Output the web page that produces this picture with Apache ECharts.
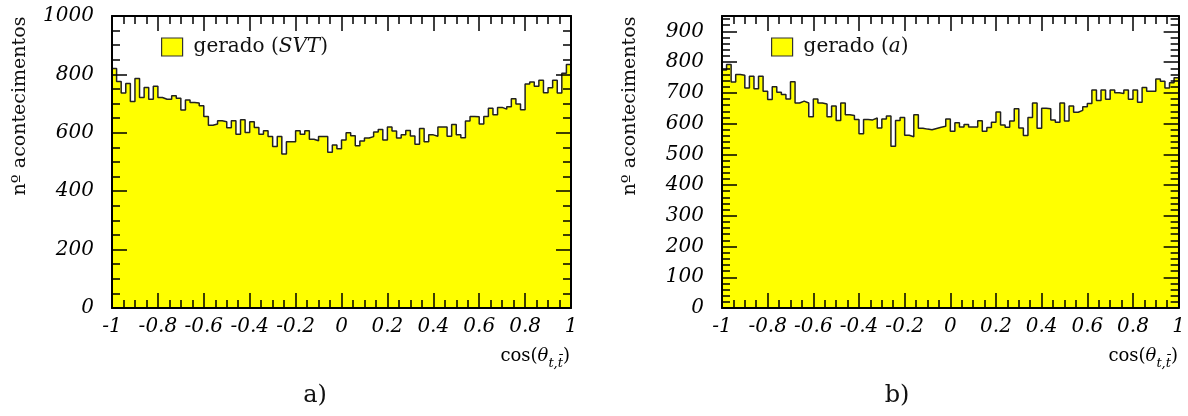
<!DOCTYPE html>
<html><head><meta charset="utf-8">
<script src="https://cdn.jsdelivr.net/npm/echarts@6/dist/echarts.min.js"></script>
<style>html,body{margin:0;padding:0;background:#fff}#c{width:1188px;height:416px}</style>
</head><body><div id="c"></div>
<script>
// ---- data ----
const binMin = -1, binMax = 1;
const countsSVT = [
820,776,736,769,707,786,721,755,715,759,
721,715,715,727,718,678,712,704,702,693,
656,626,630,641,638,617,641,595,645,601,
638,618,595,607,587,553,587,527,569,569,
607,595,607,578,573,587,587,533,558,545,
575,600,590,556,572,582,587,603,611,575,
620,606,582,593,608,589,561,615,569,593,
588,620,620,588,628,593,583,640,656,655,
630,656,684,662,687,681,689,717,699,679,
767,774,759,780,737,754,780,736,804,834];
const countsA = [
774,792,735,760,757,716,754,713,754,705,
678,720,702,695,680,736,667,673,667,622,
680,667,664,622,657,610,667,629,626,613,
567,613,612,618,586,615,625,526,610,620,
562,557,629,585,582,580,584,588,591,615,
575,603,589,597,589,589,609,575,587,604,
638,595,588,608,648,586,561,620,667,585,
650,648,612,604,667,608,657,637,643,655,
665,709,675,709,679,709,700,698,709,679,
709,669,717,705,705,745,738,716,733,749];
const xTickValues = [-1,-0.8,-0.6,-0.4,-0.2,0,0.2,0.4,0.6,0.8,1];
const xTickLabels = ['-1','-0.8','-0.6','-0.4','-0.2','0','0.2','0.4','0.6','0.8','1'];
const yLeftLabels = ['0','200','400','600','800','1000'];
const yRightLabels = ['0','100','200','300','400','500','600','700','800','900'];
const legendNames = ['gerado (SVT)', 'gerado (a)'];

// ---- build ----
function stepData(counts){
  const w = (binMax - binMin) / counts.length;
  const d = counts.map((v,i)=>[binMin + i*w, v]);
  d.push([binMax, counts[counts.length-1]]);
  return d;
}
const lblFont = {fontFamily:'DejaVu Serif', fontStyle:'italic', fontSize:20, color:'#000'};
const frame = {show:true, onZero:false, lineStyle:{color:'#000', width:2}};
const noLine = {show:false, onZero:false};
const majT = {inside:true, length:15, lineStyle:{color:'#000', width:1.5}};
const minT = {inside:true, length:8, lineStyle:{color:'#000', width:1.5}};
function xLabel(v){
  const i = xTickValues.findIndex(t=>Math.abs(t-v)<1e-6);
  return i>=0 ? xTickLabels[i] : '';
}
const grids = [
  {left:112, top:16, width:459, height:292},
  {left:722, top:16, width:459, height:292}
];
const xAxis = [], yAxis = [];
const yCfg = [
  {max:1000, major:200, minor:50, labels:yLeftLabels},
  {max:950, major:100, minor:20, labels:yRightLabels}
];
grids.forEach((g,gi)=>{
  const base = {gridIndex:gi, type:'value', min:-1, max:1, offset:0, z:10, splitLine:{show:false}};
  xAxis.push(Object.assign({}, base, {interval:0.2, position:'bottom', axisLine:frame, axisTick:majT,
    axisLabel:Object.assign({margin:9, formatter:xLabel}, lblFont)}));
  xAxis.push(Object.assign({}, base, {interval:0.05, position:'bottom', axisLine:noLine, axisTick:minT, axisLabel:{show:false}}));
  xAxis.push(Object.assign({}, base, {interval:0.2, position:'top', axisLine:frame, axisTick:majT, axisLabel:{show:false}}));
  xAxis.push(Object.assign({}, base, {interval:0.05, position:'top', axisLine:noLine, axisTick:minT, axisLabel:{show:false}}));
  const c = yCfg[gi];
  const yl = v => { const i = Math.round(v / c.major); return (Math.abs(v - i*c.major)<1e-6 && i < c.labels.length) ? c.labels[i] : ''; };
  const yb = {gridIndex:gi, type:'value', min:0, max:c.max, offset:0, z:10, splitLine:{show:false}};
  yAxis.push(Object.assign({}, yb, {interval:c.major, position:'left', axisLine:frame, axisTick:majT,
    axisLabel:Object.assign({margin:18, formatter:yl}, lblFont)}));
  yAxis.push(Object.assign({}, yb, {interval:c.minor, position:'left', axisLine:noLine, axisTick:minT, axisLabel:{show:false}}));
  yAxis.push(Object.assign({}, yb, {interval:c.major, position:'right', axisLine:frame, axisTick:majT, axisLabel:{show:false}}));
  yAxis.push(Object.assign({}, yb, {interval:c.minor, position:'right', axisLine:noLine, axisTick:minT, axisLabel:{show:false}}));
});
const seriesCounts = [countsSVT, countsA];
const series = seriesCounts.map((cnt,gi)=>({
  name: legendNames[gi], type:'line', xAxisIndex:gi*4, yAxisIndex:gi*4,
  data: stepData(cnt), step:'end', symbol:'none', silent:true, animation:false,
  lineStyle:{color:'#222', width:1.5},
  itemStyle:{color:'#ffff00'},
  areaStyle:{color:'#ffff00', opacity:1},
  z: 1
}));
const legRich = {
  r:{fontFamily:'DejaVu Serif', fontSize:20, color:'#111'},
  i:{fontFamily:'DejaVu Serif', fontStyle:'italic', fontSize:20, color:'#111'},
  p:{width:6}
};
const legend = [
  {left:156, top:32, itemWidth:21, itemHeight:18, selectedMode:false,
   data:[{name:legendNames[0], icon:'rect', itemStyle:{color:'#ffff00', borderColor:'#333', borderWidth:1.2}}],
   formatter:()=>'{p|}{r|gerado (}{i|SVT}{r|)}', textStyle:{rich:legRich}},
  {left:766, top:32, itemWidth:21, itemHeight:18, selectedMode:false,
   data:[{name:legendNames[1], icon:'rect', itemStyle:{color:'#ffff00', borderColor:'#333', borderWidth:1.2}}],
   formatter:()=>'{p|}{r|gerado (}{i|a}{r|)}', textStyle:{rich:legRich}}
];
function xTitle(x){
  return {type:'text', x:x, y:356, style:{
    text:'{a|cos(}{g|θ}{s|t,t\u0304}{a|)}', align:'right', verticalAlign:'middle',
    rich:{
      a:{fontFamily:'DejaVu Serif', fontSize:18, color:'#111', lineHeight:28, verticalAlign:'middle'},
      g:{fontFamily:'DejaVu Serif', fontStyle:'italic', fontSize:18, color:'#111', lineHeight:28, verticalAlign:'middle'},
      s:{fontFamily:'DejaVu Serif', fontStyle:'italic', fontSize:13, color:'#111', lineHeight:13, verticalAlign:'bottom'}
    }}};
}
function yTitle(x){
  return {type:'text', x:x, y:106, rotation:Math.PI/2, style:{
    text:'nº acontecimentos', fontFamily:'DejaVu Serif', fontSize:19, fill:'#111',
    align:'center', verticalAlign:'middle'}};
}
const graphic = [
  yTitle(20), yTitle(630), xTitle(570), xTitle(1178),
  {type:'text', x:315, y:396, style:{text:'a)', fontFamily:'DejaVu Serif', fontSize:24, fill:'#111', align:'center', verticalAlign:'middle'}},
  {type:'text', x:897, y:396, style:{text:'b)', fontFamily:'DejaVu Serif', fontSize:24, fill:'#111', align:'center', verticalAlign:'middle'}}
];
const chart = echarts.init(document.getElementById('c'), null, {renderer:'canvas'});
chart.setOption({animation:false, grid:grids, xAxis, yAxis, series, legend, graphic});
</script></body></html>
